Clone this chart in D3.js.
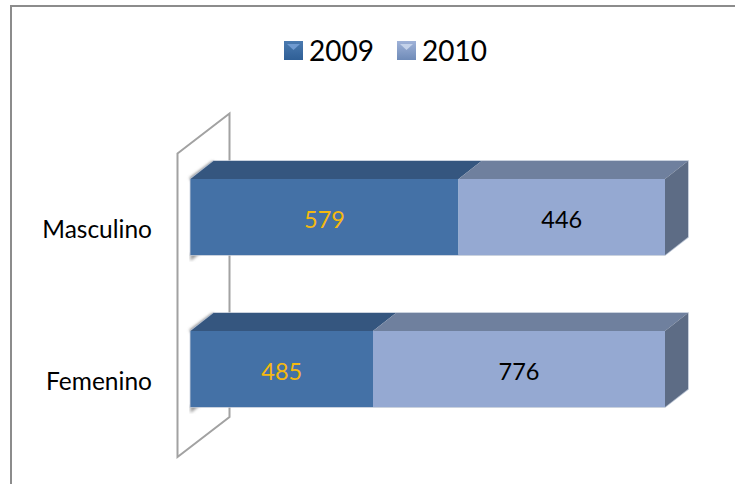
<!DOCTYPE html>
<html><head><meta charset="utf-8">
<script src="https://cdn.jsdelivr.net/npm/d3@7/dist/d3.min.js"></script>
<style>html,body{margin:0;padding:0;background:#fff}svg{display:block}text{font-family:Lato,"Open Sans",sans-serif}</style>
</head><body><svg id="c" width="735" height="484"></svg>
<script>
const categories = ["Masculino", "Femenino"];
const seriesNames = ["2009", "2010"];
const values2009 = [579, 485];
const values2010 = [446, 776];
const frontColors = ["#4471a6", "#95a9d2"];
const topColors = ["#35567f", "#6f809e"];
const labelColors = ["#f5b90f", "#000000"];

const svg = d3.select("#c");
const defs = svg.append("defs");
defs.append("filter").attr("id","soft").append("feGaussianBlur").attr("stdDeviation",1.6);
const smooth = defs.append("filter").attr("id","tiny");
smooth.append("feGaussianBlur").attr("stdDeviation",0.5);
function vgrad(id,a,b){const g=defs.append("linearGradient").attr("id",id).attr("x1",0).attr("x2",0).attr("y1",0).attr("y2",1);
  g.append("stop").attr("offset",0).attr("stop-color",a);g.append("stop").attr("offset",1).attr("stop-color",b);}
vgrad("lg0","#4a7ab0","#2f5f96");
vgrad("lg1","#9fb2d8","#6f8bb8");

// frame: top and left edges only, as in the reference
svg.append("path").attr("d","M11,484V6H735").attr("fill","none").attr("stroke","#8c8c8c").attr("stroke-width",2);

const x = d3.scaleLinear().domain([0,1]).range([190.5,665]);
const y = d3.scaleBand().domain(categories).range([141,445]).paddingInner(0.5).paddingOuter(0.25);
const dx = 23, dy = -18;
const poly = pts => "M"+pts.map(p=>p.join(",")).join("L")+"Z";

// wall
svg.append("path").attr("d",poly([[177.5,153.5],[229.5,113.5],[229.5,417],[177.5,457]]))
  .attr("fill","none").attr("stroke","#a2a2a2").attr("stroke-width",2).attr("filter","url(#tiny)");

const rows = categories.map((c,i)=>{
  const total = values2009[i]+values2010[i];
  return {c,total,segs:[{s:0,a:0,b:values2009[i]/total,v:values2009[i]},{s:1,a:values2009[i]/total,b:1,v:values2010[i]}]};
});
const catLabelY = [229, 381];

rows.forEach((r,ri)=>{
  const t = y(r.c), b = t+y.bandwidth();
  svg.append("path").attr("d",poly([[x(0)-1,t-1],[x(0)+dx-1,t+dy],[x(0)+dx+2,t+dy+3],[x(0)+2,t+3]]))
    .attr("fill","#777").attr("filter","url(#soft)");
  svg.append("path").attr("d",poly([[x(0),b-2],[x(0)+10,b-2],[x(0),b+6]]))
    .attr("fill","#999").attr("filter","url(#soft)");
  svg.append("path").attr("d",poly([[x(0),t],[x(0)+dx,t+dy],[x(1)+dx,t+dy],[x(1)+dx,b+dy],[x(1),b],[x(0),b]]))
    .attr("fill","none").attr("stroke","#b9c3d3").attr("stroke-width",1.6).attr("filter","url(#tiny)");
  r.segs.forEach(s=>{
    svg.append("path").attr("d",poly([[x(s.a),t],[x(s.a)+dx,t+dy],[x(s.b)+dx,t+dy],[x(s.b),t]])).attr("fill",topColors[s.s]);
    svg.append("rect").attr("x",x(s.a)).attr("y",t).attr("width",x(s.b)-x(s.a)).attr("height",b-t).attr("fill",frontColors[s.s]);
    svg.append("text").attr("x",(x(s.a)+x(s.b))/2).attr("y",(t+b)/2+3).attr("dy","0.35em")
      .attr("text-anchor","middle").attr("font-size",23.5).attr("fill",labelColors[s.s]).text(s.v);
  });
  svg.append("path").attr("d",poly([[x(1),t],[x(1)+dx,t+dy],[x(1)+dx,b+dy],[x(1),b]])).attr("fill","#5d6c85");
  svg.append("text").attr("x",152).attr("y",catLabelY[ri]).attr("dy","0.35em").attr("text-anchor","end")
    .attr("font-size",24.5).attr("fill","#000").text(r.c);
});

const legendX = d3.scaleOrdinal().domain(seriesNames).range([284,397]);
seriesNames.forEach((n,i)=>{
  const lx = legendX(n);
  svg.append("rect").attr("x",lx).attr("y",41).attr("width",19).attr("height",19).attr("fill",`url(#lg${i})`);
  svg.append("path").attr("d",poly([[lx+3,44],[lx+16,44],[lx+9.5,50]])).attr("fill",i?"#c4d2ea":"#6f9ad0");
  svg.append("text").attr("x",lx+25).attr("y",51).attr("dy","0.35em").attr("font-size",28).attr("fill","#000").text(n);
});
</script></body></html>
